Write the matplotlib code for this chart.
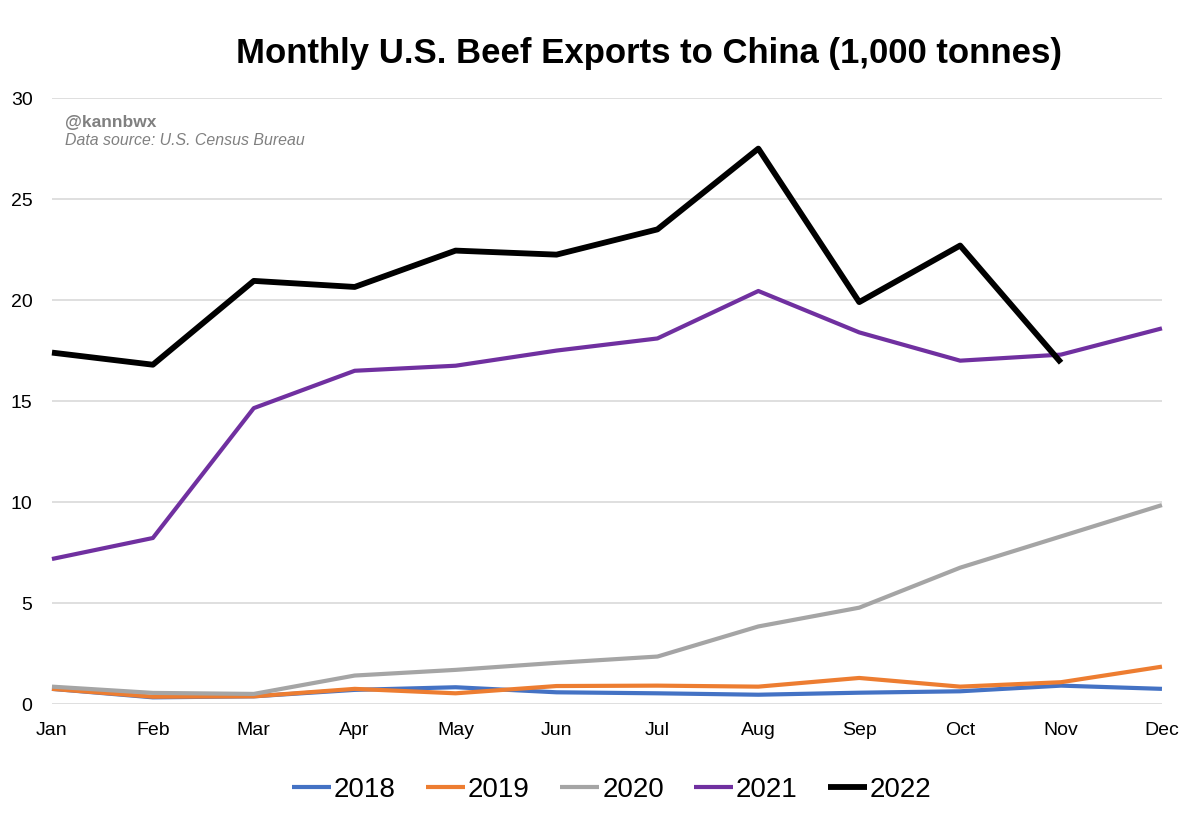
import matplotlib
matplotlib.use("Agg")
import matplotlib.pyplot as plt

months = ["Jan", "Feb", "Mar", "Apr", "May", "Jun", "Jul", "Aug", "Sep", "Oct", "Nov", "Dec"]
y2018 = [0.75, 0.33, 0.38, 0.70, 0.83, 0.58, 0.53, 0.46, 0.56, 0.63, 0.91, 0.75]
y2019 = [0.75, 0.36, 0.38, 0.75, 0.53, 0.89, 0.91, 0.86, 1.29, 0.86, 1.08, 1.85]
y2020 = [0.86, 0.55, 0.50, 1.41, 1.69, 2.04, 2.35, 3.84, 4.77, 6.75, 8.30, 9.85]
y2021 = [7.18, 8.22, 14.65, 16.5, 16.75, 17.5, 18.1, 20.45, 18.4, 17.0, 17.3, 18.6]
y2022 = [17.4, 16.8, 20.95, 20.65, 22.45, 22.25, 23.5, 27.5, 19.9, 22.7, 16.9]
series_names = ["2018", "2019", "2020", "2021", "2022"]
yticks = [0, 5, 10, 15, 20, 25, 30]

plt.rcParams['font.family'] = ['Liberation Sans', 'DejaVu Sans']

fig = plt.figure(figsize=(12, 8.19), dpi=100)
ax = fig.add_axes([0.0433, 0.1404, 0.9250, 0.7398])

colors = ["#4472C4", "#ED7D31", "#A5A5A5", "#7030A0", "#000000"]
widths = [3.0, 3.0, 3.0, 3.0, 4.2]
data = [y2018, y2019, y2020, y2021, y2022]
x = list(range(len(months)))
for name, vals, c, w in zip(series_names, data, colors, widths):
    ax.plot(x[:len(vals)], vals, color=c, lw=w, label=name, solid_joinstyle='round',
            solid_capstyle='butt', zorder=3, clip_on=False)

ax.set_xlim(0, 11)
ax.set_ylim(0, 30)
ax.set_xticks(x)
ax.set_xticklabels(months, fontsize=14)
ax.set_yticks(yticks)
ax.set_yticklabels([str(v) for v in yticks], fontsize=14)
ax.tick_params(axis='both', length=0, colors='#000000')
ax.tick_params(axis='x', pad=13)
ax.tick_params(axis='y', pad=14)
ax.grid(axis='y', color='#D9D9D9', lw=1.2, zorder=0)
for s in ax.spines.values():
    s.set_visible(False)

fig.text(0.541, 0.935, "Monthly U.S. Beef Exports to China (1,000 tonnes)", ha='center', va='center',
         fontsize=25, fontweight='bold')
ax.text(0.012, 0.972, "@kannbwx", transform=ax.transAxes, fontsize=12.5, fontweight='bold',
        color='#808080', va='top', ha='left')
ax.text(0.012, 0.942, "Data source: U.S. Census Bureau", transform=ax.transAxes, fontsize=11.4,
        style='italic', color='#808080', va='top', ha='left')

leg = fig.legend(loc='center', bbox_to_anchor=(0.51, 0.036), ncol=5, frameon=False, fontsize=20,
                 handlelength=1.4, handletextpad=0.1, columnspacing=1.1)

fig.savefig("out.png", dpi=100)
